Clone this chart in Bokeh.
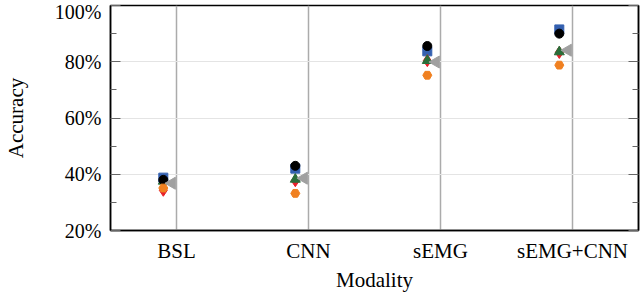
from bokeh.plotting import figure
from bokeh.models import FixedTicker, PrintfTickFormatter, LinearAxis, ColumnDataSource, CustomJSTickFormatter
from bokeh.transform import dodge
from bokeh.embed import file_html
from bokeh.resources import INLINE
import math

categories = ["BSL", "CNN", "sEMG", "sEMG+CNN"]
blue_square = [38.8, 42.0, 83.7, 91.5]
red_diamond = [34.3, 37.7, 80.4, 83.3]
green_triangle = [37.5, 38.2, 80.4, 83.5]
black_circle = [38.0, 43.0, 85.6, 90.0]
orange_pentagon = [35.1, 33.2, 75.2, 78.8]
gray_triangle = [36.8, 38.6, 79.9, 84.1]
y_ticks = [20, 40, 60, 80, 100]
y_minor = [30, 50, 70, 90]
x_title = "Modality"
y_title = "Accuracy"

FONT = "Liberation Serif"

p = figure(x_range=categories, y_range=(20, 100), width=640, height=294,
           output_backend="svg", toolbar_location=None,
           min_border_left=100, min_border_right=2, min_border_top=5, min_border_bottom=63,
           x_axis_label=x_title, y_axis_label=y_title)
p.x_range.range_padding = 0

src = ColumnDataSource(dict(cat=categories, blue=blue_square, red=red_diamond, green=green_triangle,
                            black=black_circle, orange=orange_pentagon, gray=gray_triangle))

xm = dodge("cat", -0.1, range=p.x_range)
xg = dodge("cat", -0.035, range=p.x_range)

p.scatter(x=xm, y="blue", source=src, marker="square", size=9, color="#3460b0")
p.scatter(x=xm, y="red", source=src, marker="diamond", size=12, color="#e8202a")
p.scatter(x=xm, y="green", source=src, marker="triangle", size=10, color="#2a6e3a")
p.scatter(x=xm, y="black", source=src, marker="circle", size=9, color="black")
p.scatter(x=xm, y="orange", source=src, marker="hex", size=9, color="#f08020")
p.scatter(x=xg, y="gray", source=src, marker="triangle", size=12, angle=math.pi / 2, color="#a0a0a0")

p.outline_line_color = "black"
p.outline_line_width = 1.5

p.xgrid.grid_line_color = "#ababab"
p.xgrid.grid_line_width = 1.5
p.ygrid.grid_line_color = "#e4e4e4"
p.ygrid.grid_line_width = 1.2

ticker = FixedTicker(ticks=y_ticks, minor_ticks=y_minor)
p.yaxis.ticker = ticker
p.yaxis.formatter = PrintfTickFormatter(format="%d%%")
p.ygrid.ticker = ticker

right = LinearAxis(ticker=ticker, formatter=CustomJSTickFormatter(code="return ''"),
                   major_label_standoff=0)
p.add_layout(right, "right")

for ax in p.yaxis:
    ax.major_tick_in = 10
    ax.major_tick_out = 0
    ax.minor_tick_in = 6
    ax.minor_tick_out = 0
    ax.axis_line_color = "black"
    ax.axis_line_width = 1.5
    ax.major_tick_line_color = "#666666"
    ax.minor_tick_line_color = "#666666"

p.yaxis[0].major_label_standoff = 9
p.yaxis[0].axis_label_standoff = 24

for ax in p.xaxis:
    ax.major_tick_in = 0
    ax.major_tick_out = 0
    ax.axis_line_width = 1.5
    ax.major_label_standoff = 8
    ax.axis_label_standoff = 2

for ax in p.axis:
    ax.major_label_text_font = FONT
    ax.axis_label_text_font = FONT
    ax.major_label_text_font_size = "21px"
    ax.axis_label_text_font_size = "21px"
    ax.axis_label_text_font_style = "normal"
    ax.major_label_text_color = "black"
    ax.axis_label_text_color = "black"
p.yaxis[0].major_label_text_font_size = "20px"

open("out.html", "w").write(file_html(p, INLINE))
